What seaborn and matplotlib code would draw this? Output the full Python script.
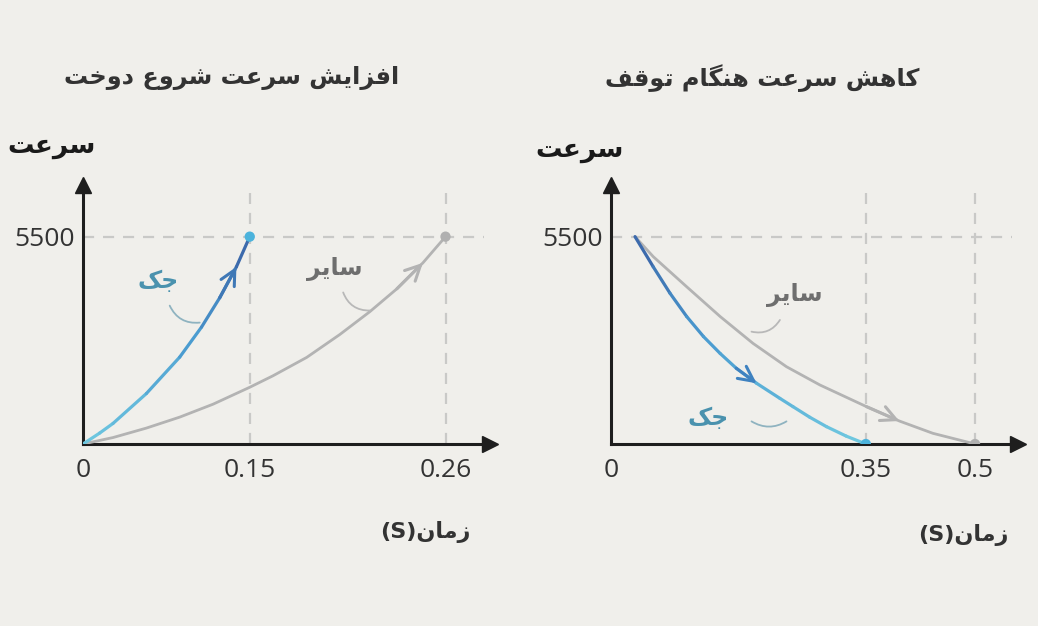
import numpy as np
import pandas as pd
import matplotlib
matplotlib.use("Agg")
import matplotlib.pyplot as plt
import seaborn as sns
from matplotlib.collections import LineCollection
from matplotlib.colors import LinearSegmentedColormap, Normalize

# ---------------- data ----------------
speed_max = 5500
left_title = "افزایش سرعت شروع دوخت"
right_title = "کاهش سرعت هنگام توقف"
y_label = "سرعت"
x_label = "زمان(S)"
jack_name = "جک"
other_name = "سایر"

start_jack_t = [0, 0.015, 0.027, 0.057, 0.087, 0.1066, 0.123, 0.138, 0.150]
start_jack_v = [0, 290, 546, 1338, 2305, 3100, 3880, 4700, 5500]
start_other_t = [0, 0.027, 0.057, 0.087, 0.117, 0.150, 0.163, 0.182, 0.2006, 0.2175,
                 0.2327, 0.2473, 0.260]
start_other_v = [0, 171, 422, 713, 1056, 1505, 1808, 2297, 2904, 3511, 4118, 4805, 5500]
start_ticks = [0, 0.15, 0.26]
start_tick_labels = ["0", "0.15", "0.26"]

stop_jack_t = [0.033, 0.058, 0.081, 0.104, 0.127, 0.150, 0.172, 0.200, 0.232, 0.250,
               0.273, 0.296, 0.323, 0.350]
stop_jack_v = [5500, 4700, 4000, 3380, 2850, 2400, 2010, 1610, 1210, 990, 710, 460, 210, 0]
stop_other_t = [0.033, 0.058, 0.104, 0.150, 0.195, 0.241, 0.287, 0.351, 0.396, 0.442, 0.500]
stop_other_v = [5500, 4970, 4170, 3380, 2670, 2050, 1565, 990, 610, 284, 0]
stop_ticks = [0, 0.35, 0.5]
stop_tick_labels = ["0", "0.35", "0.5"]

# ---------------- Persian shaping (presentation forms + visual order) ----------------
_FORMS = {
    'ا': (0xFE8D, 0xFE8E, None, None),
    'د': (0xFEA9, 0xFEAA, None, None),
    'ر': (0xFEAD, 0xFEAE, None, None),
    'ز': (0xFEAF, 0xFEB0, None, None),
    'و': (0xFEED, 0xFEEE, None, None),
    'ف': (0xFED1, 0xFED2, 0xFED3, 0xFED4),
    'ی': (0xFBFC, 0xFBFD, 0xFBFE, 0xFBFF),
    'ش': (0xFEB5, 0xFEB6, 0xFEB7, 0xFEB8),
    'س': (0xFEB1, 0xFEB2, 0xFEB3, 0xFEB4),
    'ع': (0xFEC9, 0xFECA, 0xFECB, 0xFECC),
    'ت': (0xFE95, 0xFE96, 0xFE97, 0xFE98),
    'خ': (0xFEA5, 0xFEA6, 0xFEA7, 0xFEA8),
    'ک': (0xFB8E, 0xFB8F, 0xFB90, 0xFB91),
    'ه': (0xFEE9, 0xFEEA, 0xFEEB, 0xFEEC),
    'ن': (0xFEE5, 0xFEE6, 0xFEE7, 0xFEE8),
    'گ': (0xFB92, 0xFB93, 0xFB94, 0xFB95),
    'م': (0xFEE1, 0xFEE2, 0xFEE3, 0xFEE4),
    'ق': (0xFED5, 0xFED6, 0xFED7, 0xFED8),
    'ج': (0xFE9D, 0xFE9E, 0xFE9F, 0xFEA0),
}


def fa(text):
    def joins_next(c):
        return c in _FORMS and _FORMS[c][2] is not None
    shaped = []
    for i, c in enumerate(text):
        if c not in _FORMS:
            shaped.append(c)
            continue
        iso, fin, ini, med = _FORMS[c]
        prev = i > 0 and joins_next(text[i - 1])
        nxt = ini is not None and i + 1 < len(text) and text[i + 1] in _FORMS
        if prev and nxt:
            ch = med
        elif prev:
            ch = fin
        elif nxt:
            ch = ini
        else:
            ch = iso
        shaped.append(chr(ch))
    runs = []
    for o, s in zip(text, shaped):
        rtl = o in _FORMS or o == ' '
        if runs and runs[-1][0] == rtl:
            runs[-1][1].append(s)
        else:
            runs.append([rtl, [s]])
    out = []
    for rtl, chars in reversed(runs):
        out.append(''.join(reversed(chars)) if rtl else ''.join(chars))
    return ''.join(out)


# ---------------- style ----------------
BG = "#f0efeb"
AXIS = "#1e1e1e"
GRAY = "#b3b3b3"
DASH = "#c9c9c7"
TEAL = "#4a92ae"
TXT = "#333333"
blue_cmap = LinearSegmentedColormap.from_list("jack", ["#6fc8e0", "#4a9bd0", "#3a62a6"])

sns.set_theme(style="white")
plt.rcParams["font.family"] = ["DejaVu Sans"]
plt.rcParams["axes.facecolor"] = BG
plt.rcParams["figure.facecolor"] = BG

W, H = 1038, 626
fig = plt.figure(figsize=(W / 100, H / 100), dpi=100)

YTOP = 6870


def px_axes(x0, y_bottom, x1, y_top):
    return fig.add_axes([x0 / W, 1 - y_bottom / H, (x1 - x0) / W, (y_bottom - y_top) / H])


def gradient_line(ax, t, v):
    pts = np.column_stack([t, v])
    segs = np.stack([pts[:-1], pts[1:]], axis=1)
    mids = (np.asarray(v[:-1]) + np.asarray(v[1:])) / 2
    lc = LineCollection(segs, cmap=blue_cmap, norm=Normalize(0, speed_max),
                        linewidths=2.3, capstyle="round", joinstyle="round", zorder=4)
    lc.set_array(mids)
    ax.add_collection(lc)


def chevron(ax, t, v, k, color):
    ax.annotate("", xy=(t[k], v[k]), xytext=(t[k - 1], v[k - 1]),
                arrowprops=dict(arrowstyle="->,head_length=0.9,head_width=0.45",
                                color=color, lw=2.2, shrinkA=0, shrinkB=0), zorder=5)


def setup_axes(ax, ticks, tick_labels, xmax):
    ax.set_xlim(0, xmax)
    ax.set_ylim(0, YTOP)
    for s in ["top", "right"]:
        ax.spines[s].set_visible(False)
    for s in ["left", "bottom"]:
        ax.spines[s].set_color(AXIS)
        ax.spines[s].set_linewidth(2.2)
    ax.set_xticks(ticks)
    ax.set_xticklabels(tick_labels)
    ax.set_yticks([speed_max])
    ax.set_yticklabels([str(speed_max)])
    ax.tick_params(axis="x", length=0, pad=10, labelsize=19, labelcolor=TXT)
    ax.tick_params(axis="y", length=0, pad=6, labelsize=19, labelcolor=TXT)
    for lab in ax.get_xticklabels() + ax.get_yticklabels():
        lab.set_family("Open Sans")
    ax.plot(1, 0, ">", color=AXIS, ms=11, transform=ax.transAxes, clip_on=False, zorder=6)
    ax.plot(0, 1, "^", color=AXIS, ms=11, transform=ax.transAxes, clip_on=False, zorder=6)
    ax.set_xlabel("")
    ax.set_ylabel("")


# ---------------- left panel: start ----------------
def fwd(x):
    x = np.asarray(x, dtype=float)
    return np.where(x <= start_ticks[1], x * 1111.3,
                    166.7 + (x - start_ticks[1]) * 1779.0)


def inv(y):
    y = np.asarray(y, dtype=float)
    return np.where(y <= 166.7, y / 1111.3, start_ticks[1] + (y - 166.7) / 1779.0)


axL = px_axes(83, 444, 490, 185)
axL.set_xscale("function", functions=(fwd, inv))
axL.axhline(speed_max, xmax=0.985, color=DASH, lw=1.6, ls=(0, (5, 4)), zorder=1)
axL.vlines(start_ticks[1:], 0, 6650, color=DASH, lw=1.6, linestyles=[(0, (5, 4))], zorder=1)

df_other_L = pd.DataFrame({"t": start_other_t, "v": start_other_v})
sns.lineplot(data=df_other_L, x="t", y="v", ax=axL, color=GRAY, lw=2.0, sort=False, zorder=3)
gradient_line(axL, start_jack_t, start_jack_v)
chevron(axL, start_jack_t, start_jack_v, 7, "#3f78b6")
chevron(axL, start_other_t, start_other_v, 11, GRAY)
sns.scatterplot(x=[start_jack_t[-1]], y=[start_jack_v[-1]], ax=axL, color="#4cb3dc",
                s=55, edgecolor="none", zorder=6)
sns.scatterplot(x=[start_other_t[-1]], y=[start_other_v[-1]], ax=axL, color="#b0b0b0",
                s=55, edgecolor="none", zorder=6)
setup_axes(axL, start_ticks, start_tick_labels, 0.285)

axL.text(0.0675, 4330, fa(jack_name), color=TEAL, fontsize=17, fontweight="bold",
         ha="center", va="center")
axL.text(0.198, 4640, fa(other_name), color="#6e6e6e", fontsize=17, fontweight="bold",
         ha="center", va="center")
axL.annotate("", xy=(0.105, 3220), xytext=(0.078, 3670),
             arrowprops=dict(arrowstyle="-", color="#8fb3c0", lw=1.3,
                             connectionstyle="arc3,rad=0.35", shrinkA=0, shrinkB=0))
axL.annotate("", xy=(0.2175, 3540), xytext=(0.2025, 4020),
             arrowprops=dict(arrowstyle="-", color="#b8b8b8", lw=1.3,
                             connectionstyle="arc3,rad=0.35", shrinkA=0, shrinkB=0))

# ---------------- right panel: stop ----------------
axR = px_axes(611, 444, 1018, 185)
axR.axhline(speed_max, xmax=0.985, color=DASH, lw=1.6, ls=(0, (5, 4)), zorder=1)
axR.vlines(stop_ticks[1:], 0, 6650, color=DASH, lw=1.6, linestyles=[(0, (5, 4))], zorder=1)

df_other_R = pd.DataFrame({"t": stop_other_t, "v": stop_other_v})
sns.lineplot(data=df_other_R, x="t", y="v", ax=axR, color=GRAY, lw=2.0, sort=False, zorder=3)
gradient_line(axR, stop_jack_t, stop_jack_v)
chevron(axR, stop_jack_t, stop_jack_v, 7, "#3f82c0")
chevron(axR, stop_other_t, stop_other_v, 8, GRAY)
sns.scatterplot(x=[stop_jack_t[-1]], y=[stop_jack_v[-1]], ax=axR, color="#4cb3dc",
                s=55, edgecolor="none", zorder=6)
sns.scatterplot(x=[stop_other_t[-1]], y=[stop_other_v[-1]], ax=axR, color="#b0b0b0",
                s=55, edgecolor="none", zorder=6)
setup_axes(axR, stop_ticks, stop_tick_labels, 0.559)

axR.text(0.252, 3950, fa(other_name), color="#6e6e6e", fontsize=17, fontweight="bold",
         ha="center", va="center")
axR.text(0.1335, 690, fa(jack_name), color=TEAL, fontsize=17, fontweight="bold",
         ha="center", va="center")
axR.annotate("", xy=(0.193, 2980), xytext=(0.232, 3290),
             arrowprops=dict(arrowstyle="-", color="#b8b8b8", lw=1.3,
                             connectionstyle="arc3,rad=-0.35", shrinkA=0, shrinkB=0))
axR.annotate("", xy=(0.241, 600), xytext=(0.193, 600),
             arrowprops=dict(arrowstyle="-", color="#8fb3c0", lw=1.3,
                             connectionstyle="arc3,rad=0.3", shrinkA=0, shrinkB=0))

# ---------------- texts ----------------
def ftext(x, y, s, **kw):
    fig.text(x / W, 1 - y / H, s, ha="center", va="center", **kw)


ftext(232, 78, fa(left_title), fontsize=17.3, fontweight="bold", color=TXT)
ftext(762, 78, fa(right_title), fontsize=17.3, fontweight="bold", color=TXT)
ftext(52, 146, fa(y_label), fontsize=19, fontweight="bold", color="#1a1a1a")
ftext(580, 150, fa(y_label), fontsize=19, fontweight="bold", color="#1a1a1a")
ftext(425, 532, fa(x_label), fontsize=16, fontweight="bold", color=TXT)
ftext(963, 535, fa(x_label), fontsize=16, fontweight="bold", color=TXT)

fig.savefig("out.png", dpi=100, facecolor=BG)
